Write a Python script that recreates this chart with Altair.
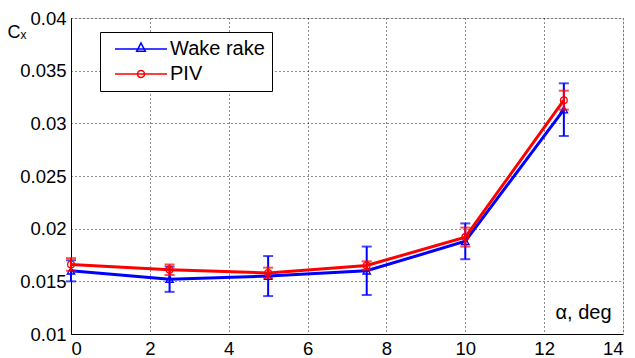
import altair as alt
import pandas as pd

alpha = [0, 2.5, 5, 7.5, 10, 12.5]
wake = [0.0160, 0.0152, 0.0155, 0.0160, 0.0188, 0.0313]
wake_err = [0.0010, 0.0012, 0.0019, 0.0023, 0.0017, 0.0025]
piv = [0.0166, 0.0161, 0.0158, 0.0165, 0.0192, 0.0322]
piv_err = [0.0006, 0.0005, 0.0005, 0.0004, 0.0009, 0.0009]
series_names = ["Wake rake", "PIV"]
colors = ["#0000ff", "#ff0000"]
x_ticks = [0, 2, 4, 6, 8, 10, 12, 14]
y_ticks = [0.01, 0.015, 0.02, 0.025, 0.03, 0.035, 0.04]

rows = []
for s, vals, errs in [(series_names[0], wake, wake_err), (series_names[1], piv, piv_err)]:
    for a, v, e in zip(alpha, vals, errs):
        rows.append({"alpha": a, "cx": v, "lo": v - e, "hi": v + e, "series": s})
df = pd.DataFrame(rows)

FONT = "Liberation Sans"
xs = alt.Scale(domain=[0, 14], nice=False, zero=False)
ys = alt.Scale(domain=[0.01, 0.04], nice=False, zero=False)

common_axis = dict(grid=True, gridColor="#000000", gridDash=[1, 3], gridWidth=1, gridOpacity=0.9,
                   domain=True, domainColor="black", ticks=False,
                   labelFont=FONT, labelFontSize=18.5, labelColor="black", labelPadding=5,
                   titleFont=FONT, titleFontWeight="normal", titleColor="black", titleAngle=0,
                   titleBaseline="alphabetic")

X = alt.X("alpha:Q", scale=xs, axis=alt.Axis(
    values=x_ticks, title="α, deg", titleX=540, titleY=-16,
    titleAlign="right", titleFontSize=20, **common_axis))
Y = alt.Y("cx:Q", scale=ys, axis=alt.Axis(
    values=y_ticks, format="~g", title="Cₓ", titleX=-64, titleY=19,
    titleAlign="left", titleFontSize=18, **common_axis))

tri_path = "M-5.2,0H5.2M0,-1.2L0.85,0.45H-0.85Z"
circ_path = "M-5.2,0H5.2M0.7,0A0.7,0.7 0 1,1 -0.7,0A0.7,0.7 0 1,1 0.7,0"

leg = alt.Legend(orient="none", legendX=29, legendY=14, title=None,
                 strokeColor="black", fillColor="white", padding=7,
                 symbolSize=100, symbolOffset=24, labelOffset=19,
                 symbolStrokeWidth=1.6, symbolOpacity=1, labelFontSize=20,
                 labelFont=FONT, labelColor="black", rowPadding=5,
                 cornerRadius=0)

legend_layer = alt.Chart(df).mark_point(opacity=0, filled=False).encode(
    x=X, y=Y,
    color=alt.Color("series:N", scale=alt.Scale(domain=series_names, range=colors), legend=leg),
    shape=alt.Shape("series:N", scale=alt.Scale(domain=series_names, range=[tri_path, circ_path]), legend=leg),
)

layers = [legend_layer]
for s, col, shp, sz in [(series_names[0], colors[0], "triangle-up", 55), (series_names[1], colors[1], "circle", 45)]:
    base = alt.Chart(df).transform_filter(alt.datum.series == s)
    line = base.mark_line(color=col, strokeWidth=3).encode(x=X, y=Y)
    bars = base.mark_rule(color=col, strokeWidth=2).encode(x=X, y="lo:Q", y2="hi:Q")
    cap_lo = base.mark_tick(color=col, thickness=2, size=10, orient="horizontal").encode(x=X, y="lo:Q")
    cap_hi = base.mark_tick(color=col, thickness=2, size=10, orient="horizontal").encode(x=X, y="hi:Q")
    pts = base.mark_point(color=col, shape=shp, size=sz, filled=False, strokeWidth=1.3, opacity=1).encode(x=X, y=Y)
    layers += [line, bars, cap_lo, cap_hi, pts]

chart = alt.layer(*layers).properties(
    width=552, height=316,
    autosize=alt.AutoSizeParams(type="none"),
    padding={"left": 63, "top": 10, "right": 4, "bottom": 24},
).configure_view(stroke="black", strokeWidth=1).configure(background="white")

chart.save("out.html", embed_options={"renderer": "svg", "actions": False})
